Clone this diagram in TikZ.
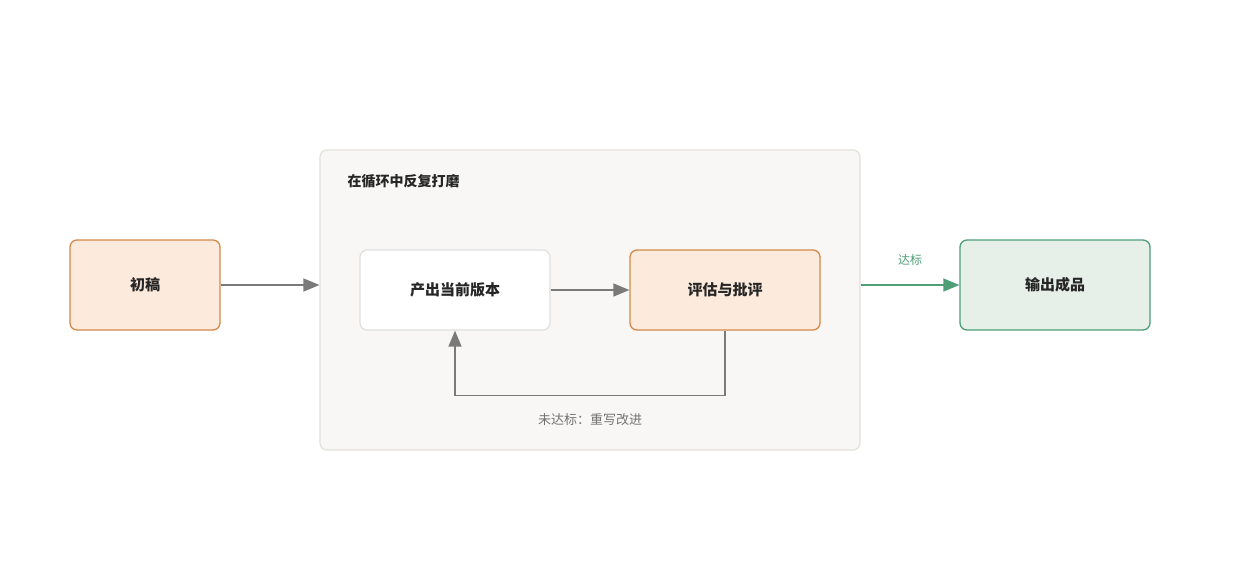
\documentclass[tikz,border=0pt]{standalone}
\usepackage{fontspec}
\setmainfont{Noto Sans CJK SC}
\usetikzlibrary{arrows.meta}
\definecolor{ofill}{HTML}{FCEBDD}
\definecolor{oline}{HTML}{D4894A}
\definecolor{gfill}{HTML}{E6F0E9}
\definecolor{gline}{HTML}{4E9E76}
\definecolor{cfill}{HTML}{F8F7F5}
\definecolor{cline}{HTML}{E2E0DC}
\definecolor{arr}{HTML}{7A7A7A}
\begin{document}
\begin{tikzpicture}[x=1pt,y=-1pt,
  box/.style={draw, rounded corners=7pt, line width=1.3pt, font=\fontsize{15}{18}\selectfont\bfseries, text=black!85},
  obox/.style={box, fill=ofill, draw=oline},
  con/.style={-{Triangle[length=16pt,width=13pt]}, line width=1.5pt, draw=arr}]
\useasboundingbox (0,0) rectangle (1240,560);
\node[draw=cline, fill=cfill, rounded corners=7pt, line width=1.2pt, minimum width=540pt, minimum height=300pt] (c) at (590,300) {};
\node[anchor=west, font=\fontsize{14}{17}\selectfont\bfseries, text=black!85] (t) at (344,181) {在循环中反复打磨};
\node[obox, minimum width=150pt, minimum height=90pt] (a) at (145,285) {初稿};
\node[box, fill=white, draw=black!12, minimum width=190pt, minimum height=80pt] (p) at (455,290) {产出当前版本};
\node[obox, minimum width=190pt, minimum height=80pt] (e) at (725,290) {评估与批评};
\node[box, fill=gfill, draw=gline, minimum width=190pt, minimum height=90pt] (o) at (1055,285) {输出成品};
\draw[con] (a.east) -- (a.east -| c.west);
\draw[con] (p.east) -- (e.west);
\draw[con] (e.south) -- ++(0,65) -| (p.south);
\node[font=\fontsize{13}{16}\selectfont, text=black!55] (l) at (590,420) {未达标：重写改进};
\draw[con, draw=gline, -{Triangle[length=16pt,width=13pt,fill=gline]}] (o.west -| c.east) -- (o.west);
\node[font=\fontsize{12}{15}\selectfont, text=gline] (g) at (910,260) {达标};
\end{tikzpicture}
\end{document}
